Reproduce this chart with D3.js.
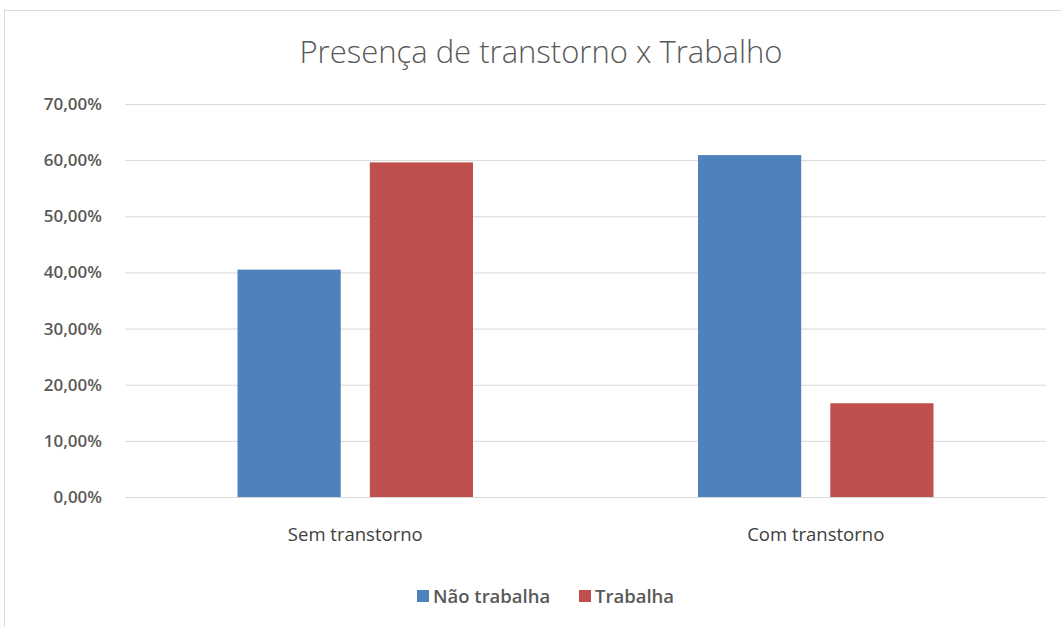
<!DOCTYPE html>
<html>
<head>
<meta charset="utf-8">
<script src="https://cdn.jsdelivr.net/npm/d3@7"></script>
<style>
  body { margin: 0; background: #fff; }
  svg { display: block; }
</style>
</head>
<body>
<div id="chart"></div>
<script>
// dados
const categorias = ["Sem transtorno", "Com transtorno"];
const series = ["Não trabalha", "Trabalha"];
const naoTrabalha = [0.405, 0.609];
const trabalha = [0.596, 0.167];
const ticksY = [0, 0.1, 0.2, 0.3, 0.4, 0.5, 0.6, 0.7];
const cores = ["#4f81bd", "#c0504d"];

const width = 1061, height = 627;
const font = "'Open Sans', sans-serif";

const svg = d3.select("#chart").append("svg")
    .attr("width", width)
    .attr("height", height);

// borda do gráfico (cortada à direita e embaixo)
svg.append("rect")
    .attr("x", 4.5).attr("y", 10.5)
    .attr("width", 1200).attr("height", 800)
    .attr("fill", "none")
    .attr("stroke", "#d9d9d9");

svg.append("text")
    .attr("x", 541).attr("y", 63)
    .attr("text-anchor", "middle")
    .attr("font-family", font)
    .attr("font-weight", 300)
    .attr("font-size", 31)
    .attr("fill", "#595959")
    .text("Presença de transtorno x Trabalho");

const plot = { left: 125, right: 1046, top: 104, bottom: 497 };

const y = d3.scaleLinear().domain([0, 0.7]).range([plot.bottom, plot.top]);
const x0 = d3.scaleBand().domain(categorias).range([plot.left, plot.right]);
const x1 = d3.scaleBand().domain(series)
    .range([112.5, x0.bandwidth() - 112.5])
    .paddingInner(0.22);

const fmt = v => (v * 100).toFixed(2).replace(".", ",") + "%";

// eixo y com linhas de grade
const yAxis = svg.append("g")
    .attr("transform", `translate(${plot.left},0)`)
    .call(d3.axisLeft(y).tickValues(ticksY).tickFormat(fmt)
        .tickSize(-(plot.right - plot.left)).tickPadding(23));
yAxis.select(".domain").remove();
yAxis.selectAll("line").attr("stroke", "#d9d9d9");
yAxis.selectAll("text")
    .attr("font-family", font)
    .attr("font-size", 17)
    .attr("font-weight", 600)
    .attr("fill", "#595959");

const dados = categorias.map((c, i) => ({ cat: c, valores: [naoTrabalha[i], trabalha[i]] }));

const grupo = svg.append("g").selectAll("g")
    .data(dados)
    .join("g")
    .attr("transform", d => `translate(${x0(d.cat)},0)`);

grupo.selectAll("rect")
    .data(d => d.valores.map((v, j) => ({ serie: series[j], v, j })))
    .join("rect")
    .attr("x", d => x1(d.serie))
    .attr("y", d => y(d.v))
    .attr("width", x1.bandwidth())
    .attr("height", d => y(0) - y(d.v))
    .attr("fill", d => cores[d.j]);

// rótulos das categorias
const xAxis = svg.append("g")
    .attr("transform", `translate(0,${plot.bottom})`)
    .call(d3.axisBottom(x0).tickSize(0).tickPadding(31));
xAxis.select(".domain").remove();
xAxis.selectAll("text")
    .attr("font-family", font)
    .attr("font-size", 18.5)
    .attr("fill", "#404040");

// legenda
const legenda = svg.append("g");
const posLeg = [417, 579];
series.forEach((s, i) => {
    legenda.append("rect")
        .attr("x", posLeg[i]).attr("y", 590)
        .attr("width", 12).attr("height", 12)
        .attr("fill", cores[i]);
    legenda.append("text")
        .attr("x", posLeg[i] + 16).attr("y", 603)
        .attr("font-family", font)
        .attr("font-size", 18.5)
        .attr("font-weight", 600)
        .attr("fill", "#595959")
        .text(s);
});
</script>
</body>
</html>
